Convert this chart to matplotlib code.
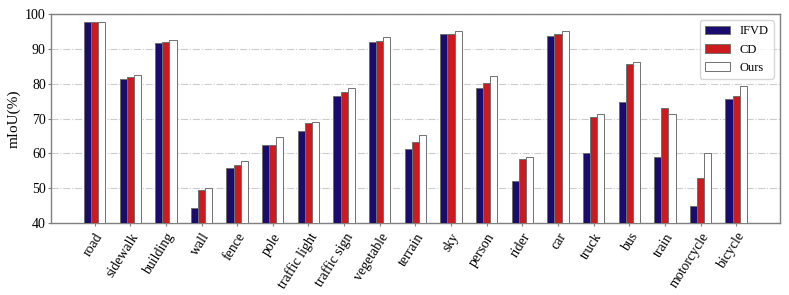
import matplotlib
matplotlib.use("Agg")
import matplotlib.pyplot as plt
import numpy as np

categories = ["road", "sidewalk", "building", "wall", "fence", "pole", "traffic light",
              "traffic sign", "vegetable", "terrain", "sky", "person", "rider", "car",
              "truck", "bus", "train", "motorcycle", "bicycle"]
ifvd = [97.6, 81.4, 91.6, 44.3, 55.9, 62.4, 66.3, 76.5, 91.9, 61.2, 94.2, 78.7, 52.2, 93.6, 60.2, 74.6, 58.9, 44.8, 75.5]
cd   = [97.7, 82.0, 91.9, 49.4, 56.7, 62.5, 68.7, 77.6, 92.2, 63.3, 94.4, 80.1, 58.4, 94.3, 70.3, 85.7, 72.9, 52.8, 76.6]
ours = [97.8, 82.4, 92.4, 50.1, 57.7, 64.6, 69.1, 78.9, 93.3, 65.2, 95.0, 82.1, 59.0, 95.2, 71.4, 86.2, 71.4, 60.1, 79.2]
yticks = [40, 50, 60, 70, 80, 90, 100]

plt.rcParams['font.family'] = ['Liberation Serif', 'DejaVu Serif']

fig = plt.figure(figsize=(7.89, 2.95), dpi=100)
ax = fig.add_axes([0.0643, 0.244, 0.9243, 0.7085])

x = np.arange(len(categories))
w = 0.2
edge = '#707070'
ax.bar(x - w, ifvd, w, color='#1a0b6e', edgecolor=edge, linewidth=0.7, label='IFVD', zorder=3)
ax.bar(x, cd, w, color='#cc1b1f', edgecolor=edge, linewidth=0.7, label='CD', zorder=3)
ax.bar(x + w, ours, w, color='white', edgecolor=edge, linewidth=0.7, label='Ours', zorder=3)

ax.set_ylim(40, 100)
ax.set_yticks(yticks)
ax.set_xticks(x)
ax.set_xticklabels(categories, rotation=58, ha='right', rotation_mode='anchor', fontsize=10)
ax.tick_params(axis='y', labelsize=10, length=2.5, pad=1)
ax.tick_params(axis='x', length=2.5, pad=3)
ax.tick_params(axis='both', color='#808080', width=0.8)
ax.set_ylabel('mIoU(%)', fontsize=11, labelpad=3)
ax.yaxis.grid(True, linestyle='-.', color='#cccccc', linewidth=0.8, zorder=0)
ax.set_axisbelow(True)
for s in ax.spines.values():
    s.set_color('#808080')
    s.set_linewidth(1.0)

leg = ax.legend(loc='upper right', fontsize=9, frameon=True, fancybox=True)
leg.get_frame().set_edgecolor('#cccccc')

fig.savefig('out.png', dpi=100)
